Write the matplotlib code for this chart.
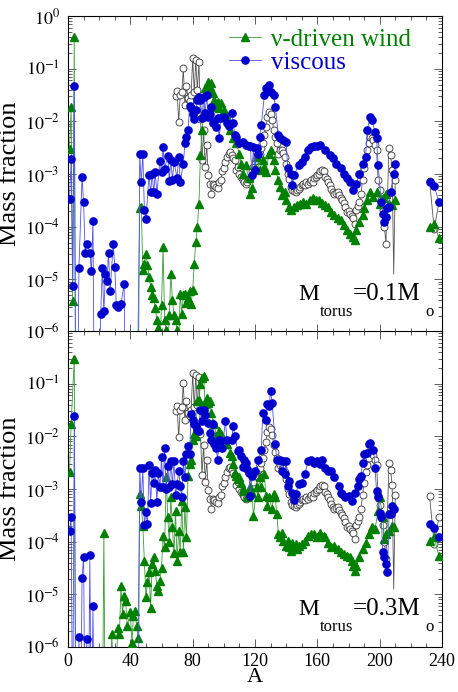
import numpy as np
import matplotlib
matplotlib.use("Agg")
import matplotlib.pyplot as plt
from matplotlib.lines import Line2D
from matplotlib.ticker import LogLocator, MultipleLocator, NullFormatter, FixedLocator, FixedFormatter

plt.rcParams["font.family"] = "serif"
plt.rcParams["font.serif"] = ["Liberation Serif", "DejaVu Serif"]
plt.rcParams["mathtext.fontset"] = "stix"

################################################################################
# DATA  (mass number A, log10 of mass fraction; -8 = below the plot floor)
################################################################################

# solar r-process pattern (open circles), same in both panels
solar_a = [69, 70, 71, 72, 73, 74, 75, 76, 77, 78, 79, 80, 81, 82, 83, 84, 85, 86, 87, 88,
           89, 90, 91, 92, 93, 94, 95, 96, 97, 98, 99, 100, 101, 102, 103, 104, 105, 106,
           107, 108, 109, 110, 111, 112, 113, 114, 115, 116, 117, 118, 119, 120, 121, 122,
           123, 124, 125, 126, 127, 128, 129, 130, 131, 132, 133, 134, 135, 136, 137, 138,
           139, 140, 141, 142, 143, 144, 145, 146, 147, 148, 149, 150, 151, 152, 153, 154,
           155, 156, 157, 158, 159, 160, 161, 162, 163, 164, 165, 166, 167, 168, 169, 170,
           171, 172, 173, 174, 175, 176, 177, 178, 179, 180, 181, 182, 183, 184, 185, 186,
           187, 188, 189, 190, 191, 192, 193, 194, 195, 196, 197, 198, 199, 200, 201, 202,
           203, 204, 206, 207, 208, 209, 210, 220, 232, 235, 238]
solar_log = [-1.52, -1.42, -2.01, -1.50, -1.45, -0.99, -1.69, -1.33, -1.56, -1.62, -1.50,
             -0.80, -1.44, -0.84, -1.41, -0.87, -1.95, -2.73, -2.16, -2.86, -2.45, -3.02,
             -3.18, -3.37, -3.18, -3.21, -3.24, -3.27, -3.15, -3.11, -2.95, -2.89, -2.77,
             -2.67, -2.61, -2.58, -2.64, -2.70, -2.73, -2.92, -2.86, -2.99, -3.05, -3.11,
             -3.15, -3.18, -3.15, -3.10, -3.08, -2.95, -2.86, -2.75, -2.67, -2.64, -2.61,
             -2.50, -2.42, -2.25, -2.10, -1.91, -1.82, -1.86, -1.97, -2.16, -2.30, -2.42,
             -2.61, -2.55, -2.54, -2.60, -2.67, -2.80, -2.99, -3.10, -3.24, -3.30, -3.32,
             -3.34, -3.30, -3.28, -3.25, -3.21, -3.18, -3.21, -3.15, -3.18, -3.15, -3.12,
             -3.15, -3.08, -3.05, -3.02, -2.99, -2.95, -2.92, -2.95, -3.05, -3.10, -3.15,
             -3.21, -3.28, -3.34, -3.37, -3.36, -3.34, -3.40, -3.46, -3.49, -3.55, -3.62,
             -3.72, -3.70, -3.75, -3.80, -3.84, -3.94, -3.68, -3.60, -3.53, -3.37, -3.11,
             -2.89, -2.67, -2.55, -2.42, -2.29, -2.32, -2.35, -2.45, -2.54, -3.11, -3.30,
             -3.50, -3.68, -4.00, -4.32, -2.51, -2.64, -2.92, -4.90, -3.11, np.nan, -3.13,
             -4.05, -3.54]
solar_no_marker = [209]  # the deep dip is only drawn as a line

# M_torus = 0.1 Msun, neutrino-driven wind (green triangles)
wind1_a = [1, 2, 3, 4, 5, 44, 46, 47, 48, 49, 50, 51, 52, 53, 54, 55, 56, 57, 58, 59, 60,
           61, 62, 63, 64, 65, 66, 67, 68, 69, 70, 71, 72, 73, 74, 75, 76, 77, 78, 79, 80,
           81, 82, 83, 84, 85, 86, 87, 88, 89, 90, 91, 92, 93, 94, 95, 96, 97, 98, 100,
           102, 104, 106, 108, 110, 111, 112, 114, 116, 117, 118, 120, 121, 123, 125, 126,
           127, 129, 130, 132, 133, 135, 136, 137, 139, 140, 142, 143, 145, 147, 149, 151,
           153, 155, 157, 159, 161, 163, 165, 167, 169, 171, 173, 175, 177, 179, 181, 183,
           184, 185, 187, 189, 190, 192, 194, 196, 198, 200, 202, 204, 206, 208, 210, 220,
           232, 235, 238]
wind1_log = [-2.53, -1.72, -5.42, -0.39, -8, -8, -3.65, -3.62, -4.82, -4.70, -4.51, -4.73,
             -4.95, -5.14, -5.30, -5.36, -5.55, -5.77, -5.93, -6.3, -5.49, -4.38, -5.77,
             -5.96, -6.3, -5.68, -4.89, -5.39, -5.68, -5.77, -5.96, -6.3, -5.27, -5.65,
             -5.30, -5.27, -5.45, -5.36, -5.23, -5.46, -5.20, -4.70, -4.30, -4.00, -3.56,
             -2.64, -2.16, -1.85, -1.37, -1.41, -1.25, -1.34, -1.28, -1.47, -1.59, -1.72,
             -1.63, -1.75, -1.66, -1.78, -1.91, -2.16, -2.32, -2.42, -2.61, -2.80, -2.99,
             -2.83, -3.08, -3.37, -3.27, -2.86, -2.67, -2.92, -2.73, -2.86, -2.96, -2.61,
             -2.54, -2.73, -2.92, -3.11, -3.24, -3.40, -3.34, -3.49, -3.62, -3.68, -3.62,
             -3.59, -3.56, -3.53, -3.56, -3.49, -3.46, -3.50, -3.49, -3.55, -3.59, -3.62,
             -3.72, -3.78, -3.84, -3.87, -3.97, -4.06, -4.13, -4.20, -4.25, -4.06, -3.91,
             -3.78, -3.65, -3.49, -3.34, -3.43, -3.34, -3.56, -3.46, -3.37, -3.56, -3.59,
             -3.50, np.nan, -4.00, -3.94, -4.22]

# M_torus = 0.1 Msun, viscous outflow (blue circles)
visc1_a = [1, 2, 3, 4, 5, 6, 7, 9, 10, 11, 12, 14, 15, 16, 17, 19, 21, 22, 23, 24, 25, 26,
           27, 29, 30, 31, 32, 34, 36, 37, 45, 46, 47, 48, 49, 50, 52, 53, 54, 55, 56, 57,
           59, 60, 61, 62, 64, 65, 66, 67, 68, 70, 71, 72, 74, 75, 76, 77, 78, 79, 80, 81,
           82, 83, 84, 85, 86, 87, 88, 89, 90, 91, 92, 93, 94, 95, 96, 97, 98, 100, 102,
           103, 105, 106, 107, 108, 110, 112, 114, 116, 117, 118, 119, 120, 121, 122, 123,
           124, 126, 127, 129, 130, 132, 133, 135, 136, 138, 140, 141, 143, 144, 145, 148,
           150, 152, 154, 156, 158, 160, 162, 165, 168, 170, 172, 175, 177, 179, 181, 183,
           185, 187, 189, 191, 192, 194, 195, 197, 198, 199, 201, 202, 203, 204, 205, 206,
           207, 209, 210, 220, 232, 235, 238]
visc1_log = [-3.47, -2.72, -5.12, -1.33, -8, -8, -4.79, -3.05, -3.54, -4.49, -4.32, -4.49,
             -4.85, -3.90, -8, -8, -5.65, -4.79, -5.61, -4.90, -5.03, -4.49, -5.23, -4.32,
             -4.76, -5.49, -5.52, -5.47, -5.09, -8, -8, -2.62, -3.16, -2.61, -3.68, -3.86,
             -3.02, -3.35, -2.99, -3.35, -2.97, -3.37, -2.75, -2.97, -2.48, -2.91, -2.65,
             -3.13, -2.73, -3.11, -2.77, -3.07, -2.67, -3.15, -2.80, -2.42, -2.30, -2.16,
             -1.71, -1.75, -1.86, -1.96, -1.78, -1.59, -1.53, -1.59, -1.94, -1.54, -1.85,
             -1.50, -1.91, -1.86, -1.72, -2.04, -1.99, -2.10, -1.94, -2.32, -1.94, -1.91,
             -2.04, -2.09, -1.85, -2.04, -2.26, -2.29, -2.42, -2.39, -2.45, -2.47, -2.47,
             -3.02, -2.48, -2.92, -2.51, -2.61, -2.29, -2.07, -1.50, -1.37, -1.31, -1.44,
             -1.50, -1.72, -2.26, -2.32, -2.35, -2.39, -2.89, -2.99, -3.21, -3.02, -2.83,
             -2.77, -2.67, -2.54, -2.48, -2.47, -2.46, -2.45, -2.54, -2.64, -2.70, -2.80,
             -2.89, -2.99, -3.08, -3.15, -3.30, -3.18, -2.99, -2.80, -2.67, -2.16, -1.91,
             -1.97, -2.20, -2.32, -2.83, -3.53, -3.75, -3.91, -3.81, -3.65, -3.62, -3.34,
             -2.99, -2.81, np.nan, -3.15, -3.23, -3.53]

# M_torus = 0.3 Msun, neutrino-driven wind
wind2_a = [1, 2, 4, 5, 22, 23, 24, 27, 28, 29, 31, 32, 33, 34, 35, 36, 37, 38, 40, 41, 42,
           43, 44, 45, 46, 47, 48, 49, 50, 51, 52, 53, 54, 55, 56, 57, 58, 59, 60, 61, 62,
           63, 64, 65, 66, 67, 68, 69, 70, 71, 72, 73, 74, 75, 76, 77, 78, 79, 80, 81, 82,
           83, 84, 85, 86, 87, 88, 89, 90, 91, 92, 93, 94, 95, 97, 98, 102, 104, 105, 106,
           107, 108, 109, 110, 111, 112, 113, 115, 116, 117, 118, 119, 121, 122, 123, 124,
           126, 127, 128, 129, 131, 132, 133, 134, 135, 136, 137, 138, 140, 141, 142, 143,
           144, 145, 146, 147, 148, 150, 152, 154, 156, 158, 160, 162, 164, 165, 167, 169,
           171, 173, 175, 177, 179, 181, 182, 183, 184, 185, 187, 189, 191, 193, 195, 197,
           199, 200, 202, 203, 204, 206, 208, 209, 220, 232, 235, 238]
wind2_log = [-2.67, -1.76, -0.53, -8, -8, -3.83, -8, -8, -5.75, -6.3, -6.3, -5.63, -5.75,
             -4.84, -5.38, -5.03, -5.12, -5.60, -5.34, -5.93, -5.41, -5.31, -5.60, -5.83,
             -3.09, -3.32, -3.70, -4.36, -5.05, -4.77, -4.58, -5.25, -4.43, -4.30, -4.55,
             -4.84, -4.93, -4.74, -4.49, -3.90, -4.10, -2.78, -3.54, -4.00, -3.16, -3.72,
             -4.22, -3.42, -4.36, -3.79, -4.19, -3.23, -4.19, -3.35, -3.92, -2.75, -2.53,
             -2.45, -2.06, -1.96, -2.00, -1.33, -1.30, -1.01, -0.89, -0.86, -1.39, -1.27,
             -1.36, -1.33, -1.55, -1.74, -1.77, -1.99, -1.90, -1.96, -2.15, -2.31, -2.37,
             -2.53, -2.69, -2.75, -2.81, -2.78, -2.88, -3.00, -3.04, -3.16, -3.10, -2.97,
             -3.07, -3.51, -2.97, -3.16, -2.78, -2.97, -2.72, -3.13, -3.32, -3.16, -3.38,
             -3.10, -3.16, -3.48, -3.86, -3.92, -3.83, -3.99, -4.08, -3.99, -4.11, -4.17,
             -4.02, -4.11, -4.05, -4.14, -4.08, -4.05, -3.99, -3.89, -3.86, -3.86, -3.92,
             -3.83, -3.90, -3.92, -4.02, -4.11, -4.08, -4.14, -4.20, -4.24, -4.27, -4.30,
             -4.36, -4.46, -4.55, -4.46, -4.30, -4.14, -4.02, -3.86, -3.73, -3.76, -3.42,
             -3.16, -3.54, -3.95, -3.86, -3.80, -3.70, -3.73, np.nan, -3.99, -3.92, -4.27]

# M_torus = 0.3 Msun, viscous outflow
visc2_a = [1, 2, 3, 4, 5, 6, 7, 8, 9, 10, 11, 12, 13, 14, 15, 16, 17, 45, 46, 47, 48, 49,
           50, 51, 52, 53, 54, 55, 56, 57, 58, 59, 60, 61, 62, 63, 64, 65, 66, 67, 68, 69,
           70, 71, 72, 73, 74, 75, 76, 77, 78, 79, 80, 81, 82, 83, 84, 85, 86, 87, 88, 90,
           91, 92, 93, 94, 95, 96, 97, 98, 99, 101, 102, 105, 106, 107, 109, 110, 111, 112,
           113, 114, 115, 116, 117, 118, 120, 122, 124, 125, 127, 128, 129, 130, 131, 133,
           134, 136, 137, 138, 139, 140, 141, 142, 144, 145, 146, 148, 150, 152, 154, 156,
           158, 160, 162, 163, 165, 167, 169, 171, 174, 175, 176, 178, 180, 182, 184, 186,
           187, 188, 189, 190, 192, 193, 194, 196, 197, 198, 199, 200, 201, 202, 203, 204,
           205, 206, 207, 208, 209, 220, 232, 235, 238]
visc2_log = [-3.80, -3.54, -8, -1.62, -8, -8, -5.81, -8, -4.68, -4.30, -8, -5.84, -8, -4.26,
             -8, -5.22, -8, -8, -2.60, -3.25, -2.61, -3.69, -3.44, -3.67, -2.54, -3.26,
             -2.69, -2.88, -2.63, -3.24, -2.69, -2.97, -2.40, -2.97, -2.22, -3.00, -2.56,
             -2.97, -2.47, -2.91, -2.47, -3.11, -2.91, -2.66, -2.94, -3.16, -2.47, -2.77,
             -2.34, -2.18, -2.34, -1.58, -1.68, -1.77, -1.80, -1.87, -1.90, -1.49, -1.71,
             -1.49, -1.60, -1.74, -1.93, -2.06, -1.77, -2.15, -2.22, -2.44, -2.06, -2.09,
             -2.22, -1.71, -2.06, -2.06, -1.80, -1.99, -2.28, -2.25, -2.37, -2.59, -2.44,
             -2.50, -2.62, -2.69, -3.13, -2.75, -2.66, -2.44, -2.25, -1.55, -1.68, -1.39,
             -1.42, -1.14, -1.36, -2.15, -2.44, -2.44, -2.66, -2.47, -2.72, -2.47, -2.94,
             -2.85, -3.07, -3.20, -3.10, -2.91, -2.88, -2.72, -2.47, -2.44, -2.50, -2.47,
             -2.53, -2.44, -2.60, -2.66, -2.66, -2.78, -2.94, -3.07, -3.10, -3.16, -3.13,
             -3.23, -3.07, -2.94, -2.81, -2.75, -2.50, -2.34, -2.31, -2.15, -2.12, -2.25,
             -2.60, -3.04, -3.16, -3.45, -3.54, -4.20, -4.30, -4.43, -4.58, -3.48, -3.48,
             -3.32, -3.38, np.nan, -3.67, -3.74, -3.92]

panels = [(wind1_a, wind1_log, visc1_a, visc1_log, "0.1"),
          (wind2_a, wind2_log, visc2_a, visc2_log, "0.3")]

green = "#008000"
blue = "#0000cc"
decades = [1e0, 1e-1, 1e-2, 1e-3, 1e-4, 1e-5, 1e-6]
decade_labels = ["$10^{0}$", "$10^{-1}$", "$10^{-2}$", "$10^{-3}$", "$10^{-4}$",
                 "$10^{-5}$", "$10^{-6}$"]

################################################################################
# PLOTTING
################################################################################

fig = plt.figure(figsize=(4.58, 6.92), dpi=100)
ax_top = fig.add_axes([0.1485, 0.5202, 0.8166, 0.4566])
ax_bot = fig.add_axes([0.1485, 0.0650, 0.8166, 0.4566])

solar_marks = [k for k, a in enumerate(solar_a) if a not in solar_no_marker]

for i, (ax, (wa, wl, va, vl, mass)) in enumerate(zip([ax_top, ax_bot], panels)):
    ax.plot(solar_a, 10.0 ** np.array(solar_log), "-o", color="#555555", lw=0.6,
            ms=5, mfc="white", mec="#333333", mew=0.6, markevery=solar_marks, zorder=2)
    ax.plot(wa, 10.0 ** np.array(wl), "-^", color="#3a9a3a", lw=0.6, ms=5.5,
            mfc=green, mec=green, zorder=3)
    ax.plot(va, 10.0 ** np.array(vl), "-o", color="#5050ee", lw=0.6, ms=5.2,
            mfc=blue, mec=blue, zorder=4)

    ax.set_yscale("log")
    ax.set_xlim(0, 240)
    ax.set_ylim(1e-6, 1)
    ax.xaxis.set_major_locator(MultipleLocator(40))
    ax.xaxis.set_minor_locator(MultipleLocator(10))
    ax.yaxis.set_major_locator(FixedLocator(decades))
    ax.yaxis.set_minor_locator(LogLocator(base=10, subs=np.arange(2, 10)))
    ax.yaxis.set_minor_formatter(NullFormatter())
    labels = decade_labels if i == 0 else [""] + decade_labels[1:]
    ax.yaxis.set_major_formatter(FixedFormatter(labels))
    ax.tick_params(which="both", direction="in", top=True, right=True, labelsize=13,
                   width=0.6, color="#444444")
    ax.tick_params(which="major", length=6, pad=6)
    ax.tick_params(which="minor", length=3)
    ax.tick_params(axis="x", which="major", pad=4)
    for spine in ax.spines.values():
        spine.set_linewidth(0.8)
    ax.set_ylabel("Mass fraction", fontsize=19, labelpad=3)

    # M_torus annotation
    ax.text(0.615, 0.10, "M", transform=ax.transAxes, fontsize=17)
    ax.text(0.674, 0.05, "torus", transform=ax.transAxes, fontsize=12)
    ax.text(0.762, 0.10, "=" + mass + "M", transform=ax.transAxes, fontsize=18)
    ax.text(0.955, 0.05, "o", transform=ax.transAxes, fontsize=12)

ax_top.tick_params(labelbottom=False)
ax_bot.set_xlabel("A", fontsize=16, labelpad=-1)

handles = [Line2D([], [], color="#3a9a3a", lw=0.6, marker="^", ms=5.5, mfc=green, mec=green),
           Line2D([], [], color="#5050ee", lw=0.6, marker="o", ms=5.2, mfc=blue, mec=blue)]
ax_top.legend(handles, ["\u03bd-driven wind", "viscous"], loc="upper left",
              bbox_to_anchor=(0.43, 0.96), frameon=False, fontsize=18,
              handlelength=1.3, handletextpad=0.4, labelspacing=0.02, borderpad=0,
              borderaxespad=0, labelcolor=[green, blue])

fig.savefig("out.png", dpi=100)
